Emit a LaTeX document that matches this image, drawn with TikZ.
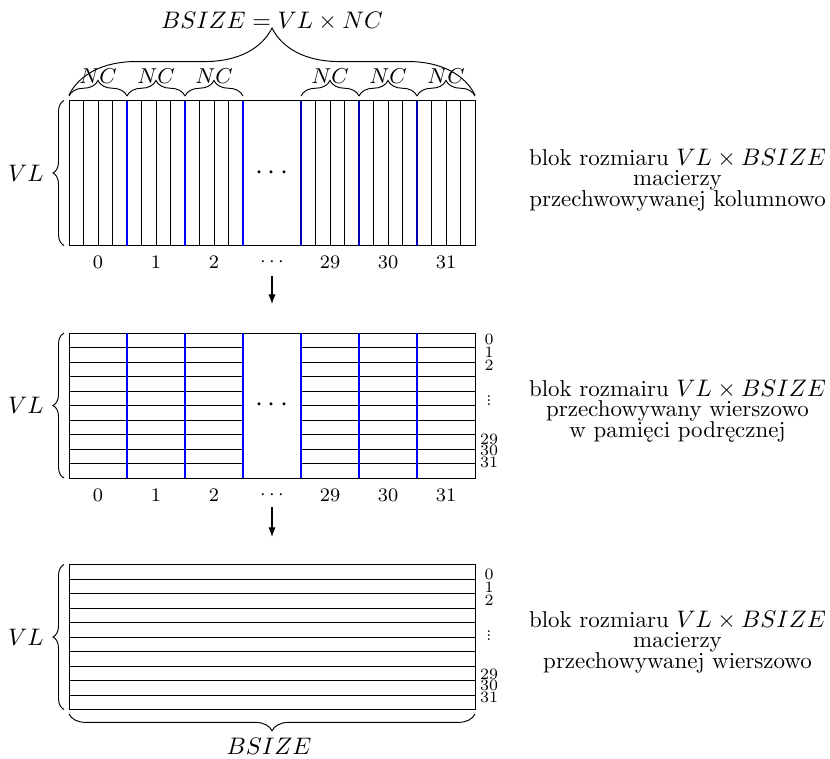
\documentclass[tikz,border=0pt]{standalone}
\usetikzlibrary{decorations.pathreplacing,arrows.meta}
\newcommand\tinyvdots{\vbox{\baselineskip=1.7pt\lineskiplimit=-10pt\relax\hbox{.}\hbox{.}\hbox{.}}}
\newcommand\descfont{\fontsize{9.6}{8.6}\selectfont\lineskiplimit=-20pt\relax}
\begin{document}
\begin{tikzpicture}[x=0.4184pt,y=-0.4184pt,
  grid/.style={black,line width=0.4pt},
  sep/.style={blue,line width=0.7pt},
  sepdark/.style={blue!70!black,line width=0.7pt},
  brc/.style={decorate,decoration={brace,amplitude=#1}},
  lbl/.style={font=\fontsize{10.3}{12}\selectfont,inner sep=0pt},
  toplbl/.style={font=\fontsize{10.1}{12}\selectfont,inner sep=0pt},
  nclbl/.style={font=\fontsize{9.5}{11}\selectfont,inner sep=0pt},
  num/.style={font=\fontsize{8}{9}\selectfont,inner sep=0pt},
  rnum/.style={font=\fontsize{6.6}{7}\selectfont,inner sep=0pt},
  desc/.style={align=center,font=\descfont,inner sep=0pt},
  arr/.style={-{Latex[length=4pt,width=3pt]},line width=0.45pt}
]
\useasboundingbox (0,0) rectangle (830,758);

% ---------- top block (column-major) ----------
\draw[grid] (69,100.5) rectangle (475,245.5);
\foreach \i in {1,...,11}{
  \draw[grid] ({69+14.5*\i},100.5) -- ({69+14.5*\i},245.5);
  \draw[grid] ({301+14.5*\i},100.5) -- ({301+14.5*\i},245.5);
}
\foreach \x in {127,185,243} \draw[sep] (\x,100.5) -- (\x,245.5);
\foreach \x in {301,359,417} \draw[sepdark] (\x,100.5) -- (\x,245.5);
\node[font=\large,inner sep=0pt] (dotsA) at (272,173) {$\cdots$};
\foreach \x/\t [count=\k] in {98/0,156/1,214/2,272/{$\cdots$},330/29,388/30,446/31}
  \node[num] (colA\k) at (\x,262) {\t};

% braces above top block
\draw[brc=28pt] (69,95) -- (475,95);
\node[toplbl] (formula) at (272,21) {$BSIZE = VL \times NC$};
\foreach \a [count=\k] in {69,127,185,301,359,417}{
  \draw[brc=6.5pt] (\a,96) -- ({\a+58},96);
  \node[nclbl] (nc\k) at ({\a+29},76) {$NC$};
}
\draw[brc=4.6pt] (64,245.5) -- (64,100.5);
\node[lbl] (vlA) at (26,173) {$VL$};

\node[desc] (descA) at (677.5,180) {blok rozmiaru $VL \times BSIZE$\\macierzy\\przechwowywanej kolumnowo};

% arrow 1
\coordinate (a1s) at (272,276);
\coordinate (a1e) at (272,304);
\draw[arr] (a1s) -- (a1e);

% ---------- middle block ----------
\draw[grid] (69,333) rectangle (475,478);
\foreach \i in {1,...,9}{
  \draw[grid] (69,{333+14.5*\i}) -- (243,{333+14.5*\i});
  \draw[grid] (301,{333+14.5*\i}) -- (475,{333+14.5*\i});
}
\foreach \x in {127,185,243,301,359,417} \draw[sep] (\x,333) -- (\x,478);
\node[font=\large,inner sep=0pt] (dotsB) at (272,405) {$\cdots$};
\foreach \x/\t [count=\k] in {98/0,156/1,214/2,272/{$\cdots$},330/29,388/30,446/31}
  \node[num] (colB\k) at (\x,495) {\t};
\foreach \y/\t [count=\k] in {339/0,352.5/1,365/2,401/{\tinyvdots},439.5/29,450.5/30,462/31}
  \node[rnum] (rowB\k) at (489,\y) {\t};
\draw[brc=4.6pt] (64,478) -- (64,333);
\node[lbl] (vlB) at (26,405) {$VL$};

\node[desc] (descB) at (677.5,411) {blok rozmairu $VL \times BSIZE$\\przechowywany wierszowo\\w pamięci podręcznej};

% arrow 2
\coordinate (a2s) at (272,507);
\coordinate (a2e) at (272,537);
\draw[arr] (a2s) -- (a2e);

% ---------- bottom block ----------
\draw[grid] (69,564.5) rectangle (475,709.5);
\foreach \i in {1,...,9}
  \draw[grid] (69,{564.5+14.5*\i}) -- (475,{564.5+14.5*\i});
\foreach \y/\t [count=\k] in {574/0,587.5/1,600/2,636/{\tinyvdots},674.5/29,685.5/30,697/31}
  \node[rnum] (rowC\k) at (489,\y) {\t};
\draw[brc=4.6pt] (64,709.5) -- (64,564.5);
\node[lbl] (vlC) at (26,637) {$VL$};
\draw[brc=7pt] (475,714) -- (69,714);
\node[lbl] (bsize) at (269,746) {$BSIZE$};

\node[desc] (descC) at (677.5,642) {blok rozmiaru $VL \times BSIZE$\\macierzy\\przechowywanej wierszowo};
\end{tikzpicture}
\end{document}
